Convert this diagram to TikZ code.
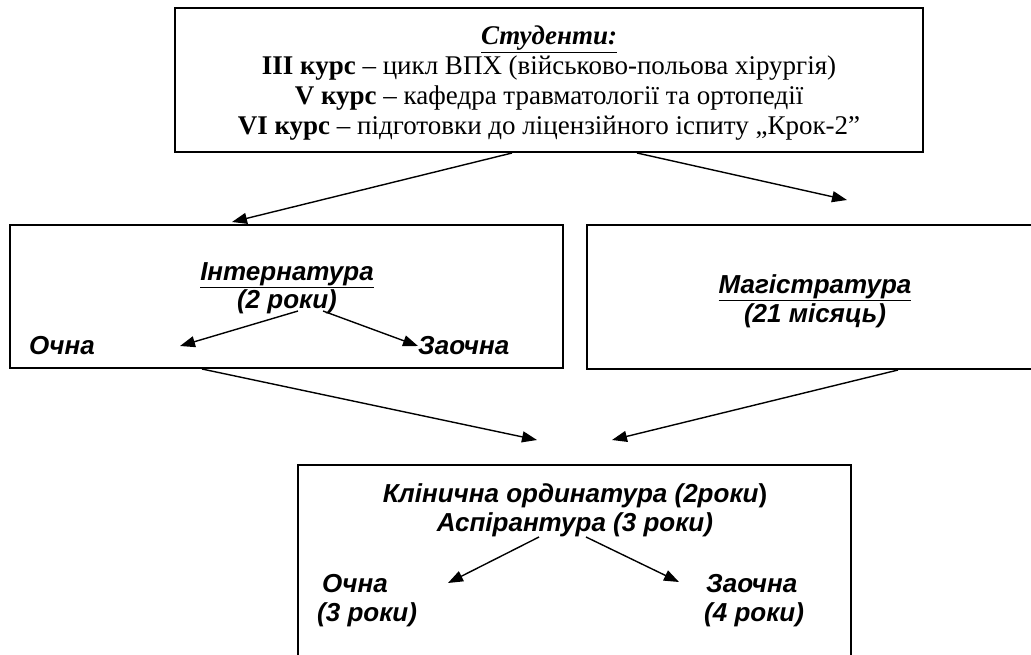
\documentclass[tikz,border=0pt]{standalone}
\usepackage{fontspec}
\setmainfont{Liberation Serif}
\newfontfamily\arialf{Liberation Sans}
\usetikzlibrary{arrows.meta}
\newcommand{\ttl}[1]{\underline{#1}}

\begin{document}
\begin{tikzpicture}[x=1pt,y=-1pt,
    box/.style={draw,line width=2pt,inner sep=0pt},
    arr/.style={line width=1.4pt,-{Triangle[length=15pt,width=11pt]}},
    txt/.style={inner sep=0pt,anchor=base,font=\fontsize{27}{30}\selectfont},
    lbl/.style={inner sep=0pt,anchor=base west,
      font=\arialf\bfseries\itshape\fontsize{26}{29}\selectfont},
    lblc/.style={lbl,anchor=base}]
    \useasboundingbox (0,0) rectangle (1031,655);
    % Boxes
    \node[box,minimum width=748,minimum height=144] (stud) at (549,80) {};
    \node[box,minimum width=553,minimum height=143] (intern) at (286.5,296.5) {};
    \node[box,minimum width=452,minimum height=144] (magist) at (813,297) {};
    \node[box,minimum width=553,minimum height=200] (ord) at (574.5,565) {};
    % Students
    \node[txt] (studhead) at (549,45) {\textbf{\textit{\ttl{Студенти:}}}};
    \node[txt] (stud3) at (549,75) {\textbf{III курс} – цикл ВПХ (військово-польова хірургія)};
    \node[txt] (stud5) at (549,105) {\textbf{V курс} – кафедра травматології та ортопедії};
    \node[txt] (stud6) at (549,135) {\textbf{VI курс} – підготовки до ліцензійного іспиту „Крок-2”};
    % Internship
    \node[lblc] (inttitle) at (287,280) {\ttl{Інтернатура}};
    \node[lblc] (intyears) at (287,308) {(2 роки)};
    \node[lbl] (intfull) at (29,354) {Очна};
    \node[lbl] (intpart) at (418,354) {Заочна};
    % Master
    \node[lblc] (magtitle) at (815,293) {\ttl{Магістратура}};
    \node[lblc] (magyears) at (815,322) {(21 місяць)};
    % Residency
    \node[lblc] (ordtitle) at (575,502) {Клінична ординатура (2роки{\upshape)}};
    \node[lblc] (asptitle) at (575,531) {Аспірантура (3 роки)};
    \node[lbl] (ordfull) at (322,592) {Очна};
    \node[lbl] (ordfullyr) at (317,621) {(3 роки)};
    \node[lbl] (ordpart) at (706,592) {Заочна};
    \node[lbl] (ordpartyr) at (704,621) {(4 роки)};
    % Arrow ends
    \coordinate (toint) at (232,222);
    \coordinate (tomag) at (847,200);
    \coordinate (intl) at (180,346);
    \coordinate (intr) at (418,346);
    \coordinate (toordl) at (537,440);
    \coordinate (toordr) at (612,440);
    \coordinate (ordl) at (448,583);
    \coordinate (ordr) at (679,582);
    % Arrows
    \draw[arr] (512,0 |- stud.south) -- (toint);
    \draw[arr] (637,0 |- stud.south) -- (tomag);
    \draw[arr] (298,311) -- (intl);
    \draw[arr] (323,311) -- (intr);
    \draw[arr] (202,0 |- intern.south) -- (toordl);
    \draw[arr] (898,0 |- magist.south) -- (toordr);
    \draw[arr] (539,537) -- (ordl);
    \draw[arr] (586,537) -- (ordr);
\end{tikzpicture}
\end{document}
